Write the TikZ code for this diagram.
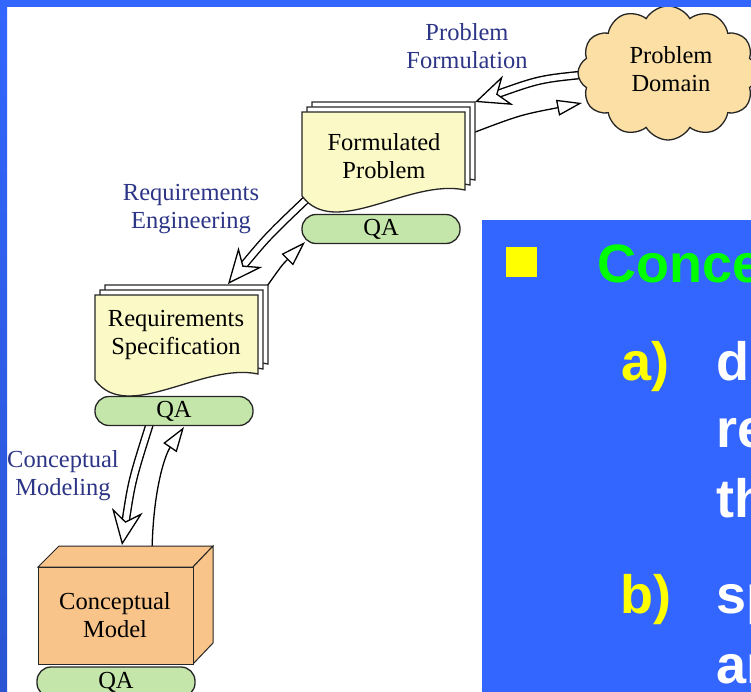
\documentclass[tikz,border=0pt]{standalone}
\usepackage{fontspec}
\setmainfont{Liberation Serif}
\newfontfamily\arialfont{Liberation Sans}
\usetikzlibrary{arrows.meta,shapes.symbols,decorations.markings}
\definecolor{bgblue}{HTML}{3366FF}
\definecolor{bgdark}{HTML}{2A54D2}
\definecolor{navy}{HTML}{2D3586}
\definecolor{cloudfill}{HTML}{FBDFA5}
\definecolor{docfill}{HTML}{FBF9C6}
\definecolor{qafill}{HTML}{C4E6AA}
\definecolor{cubefill}{HTML}{F9C48A}
\definecolor{hlgreen}{HTML}{00FF00}
\definecolor{hlyellow}{HTML}{FFFF00}
% document sheet: x1, top, x2, bottom-right y, fill
\newcommand\docsheet[5]{%
  \filldraw[outl, fill=#5] (#1,#2) -- (#3,#2) -- (#3,#4)
    .. controls ({#1+0.66*(#3-#1)},{#4-12}) and ({#1+0.2*(#3-#1)},{#4+50}) .. (#1,{#4+6}) -- cycle;}
\begin{document}
\begin{tikzpicture}[x=1pt,y=-1pt,
  outl/.style={draw=black!85, line width=1.3pt},
  txt/.style={align=center, inner sep=0pt, font=\fontsize{24.5}{28}\selectfont},
  lbl/.style={txt, text=navy},
  qa/.style={outl, fill=qafill, rounded corners=14pt, minimum width=158pt, minimum height=29pt, inner sep=0pt, font=\fontsize{24.5}{28}\selectfont},
  big/.style={anchor=base west, inner sep=0pt, font=\arialfont\bfseries\fontsize{54}{60}\selectfont},
  fatarrow/.style={
    postaction={draw=black, line width=8.5pt, shorten >=24pt},
    postaction={draw=white, line width=5.7pt, shorten >=23pt},
    postaction={decorate, decoration={markings, mark=at position 1 with {\arrow[black, line width=1.3pt]{Stealth[fill=white, length=35pt, width=31pt, inset=11pt]}}}}},
  retarrow/.style={draw=black, line width=1.3pt, -{Triangle[fill=white, length=25pt, width=16pt, line width=1.3pt]}}
]
\useasboundingbox (0,0) rectangle (751,692);
\clip (0,0) rectangle (751,692);
\fill[white] (0,0) rectangle (751,692);

% connector end points
\coordinate (pdA) at (590,74);
\coordinate (fpTR) at (475,102);
\coordinate (fpR) at (470,134);
\coordinate (pdB) at (582,103);
\coordinate (fpBL) at (310,196);
\coordinate (rsT) at (228,284);
\coordinate (rsTR) at (265,289);
\coordinate (qa1L) at (305,242);
\coordinate (qa2B) at (151,420);
\coordinate (cmT) at (122,545);
\coordinate (cmT2) at (152,552);
\coordinate (qa2R) at (184,427);

% connectors
\path[fatarrow] (pdA) .. controls (540,79) .. (fpTR);
\draw[retarrow] (fpR) .. controls (520,115) .. (pdB);
\path[fatarrow] (fpBL) .. controls (268,236) .. (rsT);
\draw[retarrow] (rsTR) .. controls (282,265) .. (qa1L);
\path[fatarrow] (qa2B) .. controls (132,480) .. (cmT);
\draw[retarrow] (cmT2) .. controls (153,490) and (165,455) .. (qa2R);

% problem domain
\node[cloud, outl, fill=cloudfill, cloud puffs=12, cloud puff arc=120, aspect=1.35,
      minimum width=180pt, minimum height=134pt, inner sep=0pt] (pd) at (668,73) {};
\node[txt] (pdl) at (671,69) {Problem\\Domain};

% formulated problem
\docsheet{312}{102}{475}{180}{white}
\docsheet{307}{107}{470}{185}{white}
\docsheet{302}{112}{465}{190}{docfill}
\node[txt] (fp) at (384,156) {Formulated\\Problem};
\node[qa] (qa1) at (381,229) {QA};

% requirements specification
\docsheet{105}{285}{268}{364}{white}
\docsheet{100}{290}{263}{369}{white}
\docsheet{95}{295}{258}{374}{docfill}
\node[txt] (rs) at (176,335) {Requirements\\Specification};
\node[qa] (qa2) at (174,411) {QA};

% conceptual model (box)
\filldraw[outl, line width=1pt, fill=cubefill] (38,567) -- (59,546) -- (213,546) -- (193,567) -- cycle;
\filldraw[outl, line width=1pt, fill=cubefill] (193,567) -- (213,546) -- (213,643) -- (193,664) -- cycle;
\filldraw[outl, line width=1pt, fill=cubefill] (38,567) rectangle (193,664);
\node[txt] (cm) at (115,615) {Conceptual\\Model};
\node[qa, minimum height=30pt] (qa3) at (116,682) {QA};

% process labels
\node[lbl] (lpf) at (467,46) {Problem\\Formulation};
\node[lbl] (lre) at (191,209) {Requirements\\Engineering};
\node[lbl] (lcm) at (63,476) {Conceptual\\Modeling};

% frame
\fill[bgblue] (0,0) rectangle (751,7);
\shade[top color=bgblue, bottom color=bgdark] (0,0) rectangle (7,692);

% text panel
\fill[bgblue] (482,220) rectangle (751,692);
\fill[hlyellow] (506,247) rectangle (537,277);
\node[big, text=hlgreen] (t0) at (597,283) {Conce};
\node[big, text=hlyellow] (ta) at (621,380) {a)};
\node[big, text=white] (t1) at (716,380) {d};
\node[big, text=white] (t2) at (716,447) {re};
\node[big, text=white] (t3) at (716,517) {th};
\node[big, text=hlyellow] (tb) at (620,613) {b)};
\node[big, text=white] (t4) at (716,613) {sp};
\node[big, text=white] (t5) at (716,683) {an};
\end{tikzpicture}
\end{document}
